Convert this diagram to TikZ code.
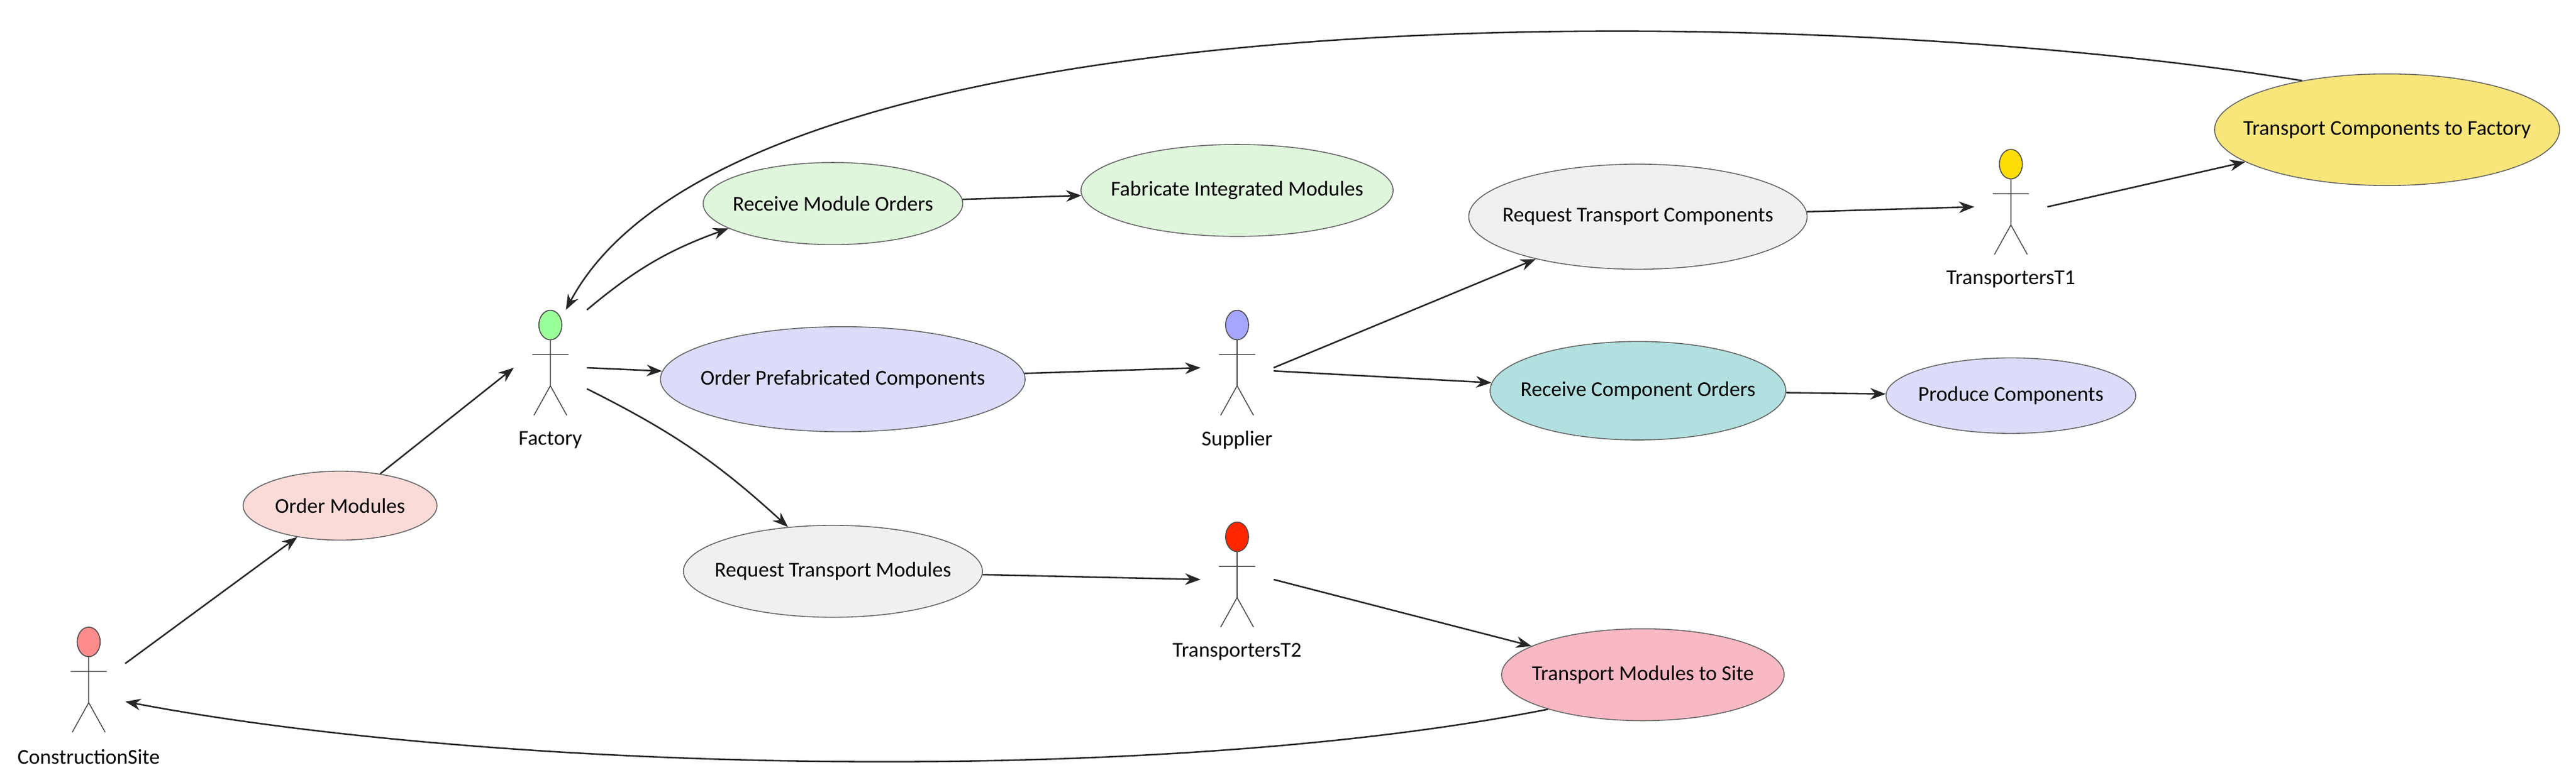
\documentclass[tikz,border=0pt]{standalone}
\usepackage{fontspec}
\setmainfont{Carlito}
\usetikzlibrary{shapes.geometric,arrows.meta}
\definecolor{cpink}{HTML}{FADBD8}
\definecolor{cgreen}{HTML}{DFF5DC}
\definecolor{clav}{HTML}{DCDCFA}
\definecolor{cgray}{HTML}{F0F0F0}
\definecolor{cteal}{HTML}{B2DFDF}
\definecolor{cyell}{HTML}{F8E67A}
\definecolor{crose}{HTML}{F8B8C4}
\tikzset{
 uc/.style={ellipse,draw=black!60,line width=0.5pt,inner xsep=-0.6cm,inner ysep=0pt,font=\fontsize{11}{13}\selectfont},
 actorbox/.style={rectangle,minimum width=1.32cm,minimum height=2.1cm,inner sep=0pt},
 lbl/.style={font=\fontsize{11}{13}\selectfont},
 fig/.style={draw=black!70,line width=0.5pt},
 arr/.style={-{Stealth[length=8pt,width=6pt]},line width=0.8pt,black!85}
}
\newcommand\myactor[5]{%
 \node[actorbox] (#1) at (#2,#3+26) {};
 \draw[fig,fill=#4] (#2,#3) ellipse [x radius=0.21cm,y radius=0.27cm];
 \draw[fig] (#2,#3+9)--(#2,#3+37) (#2-11,#3+18)--(#2+11,#3+18) (#2-10,#3+55)--(#2,#3+37)--(#2+10,#3+55);
 \node[lbl] (#1l) at (#2,#3+70) {#5};}
\begin{document}
\begin{tikzpicture}[x=0.03cm,y=-0.03cm]
\useasboundingbox (0,0) rectangle (1568,475);
\myactor{cs}{54}{391}{red!45}{ConstructionSite}
\myactor{fac}{335}{198}{green!40}{Factory}
\myactor{sup}{753}{198}{blue!35}{Supplier}
\myactor{tone}{1224}{100}{yellow!80!orange}{TransportersT1}
\myactor{ttwo}{753}{327}{red!70!orange}{TransportersT2}
\node[uc,fill=cpink,minimum width=3.54cm,minimum height=1.26cm] (om) at (207,308) {Order Modules};
\node[uc,fill=cgreen,minimum width=4.74cm,minimum height=1.5cm] (rmo) at (507,124) {Receive Module Orders};
\node[uc,fill=cgreen,minimum width=5.7cm,minimum height=1.68cm] (fim) at (753,116) {Fabricate Integrated Modules};
\node[uc,fill=clav,minimum width=6.66cm,minimum height=1.92cm] (opc) at (513,231) {Order Prefabricated Components};
\node[uc,fill=cgray,minimum width=5.46cm,minimum height=1.68cm] (rtm) at (507,348) {Request Transport Modules};
\node[uc,fill=cgray,minimum width=6.18cm,minimum height=1.92cm] (rtc) at (997,132) {Request Transport Components};
\node[uc,fill=cteal,minimum width=5.4cm,minimum height=1.8cm] (rco) at (997,238) {Receive Component Orders};
\node[uc,fill=clav,minimum width=4.56cm,minimum height=1.38cm] (pc) at (1224,241) {Produce Components};
\node[uc,fill=cyell,minimum width=6.3cm,minimum height=2.04cm] (tcf) at (1453,79) {Transport Components to Factory};
\node[uc,fill=crose,minimum width=5.16cm,minimum height=1.68cm] (tms) at (1000,411) {Transport Modules to Site};
\draw[arr] (cs.30) -- (om);
\draw[arr] (om) -- (fac.west);
\draw[arr] (fac.north east) to[bend left=10] (rmo);
\draw[arr] (fac.east) -- (opc);
\draw[arr] (fac.-30) to[bend left=8] (rtm);
\draw[arr] (rmo) -- (fim);
\draw[arr] (opc) -- (sup.west);
\draw[arr] (sup.east) -- (rtc);
\draw[arr] (sup.-5) -- (rco);
\draw[arr] (rco) -- (pc);
\draw[arr] (rtc) -- (tone.west);
\draw[arr] (tone.east) -- (tcf);
\draw[arr] (tcf.150) .. controls (1100,0) and (450,-10) .. (fac.75);
\draw[arr] (rtm) -- (ttwo.west);
\draw[arr] (ttwo.east) -- (tms);
\draw[arr] (tms.200) .. controls (700,480) and (300,470) .. (cs.-25);
\end{tikzpicture}
\end{document}
